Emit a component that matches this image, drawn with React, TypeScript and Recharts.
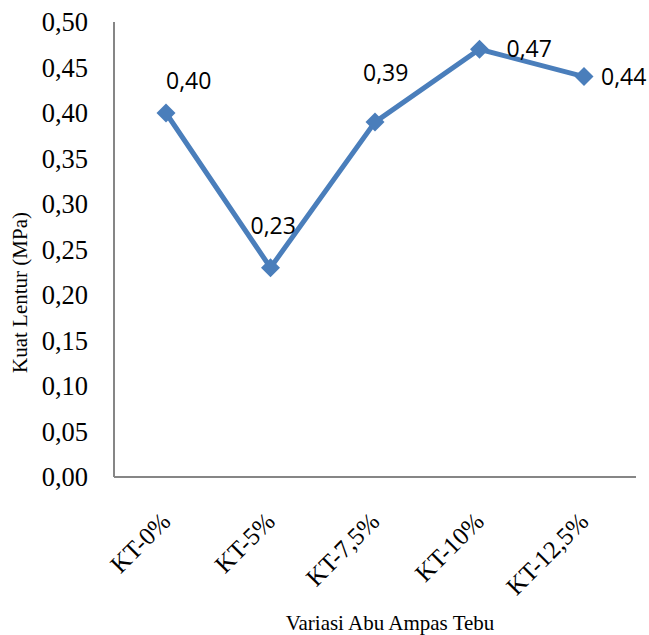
import { LineChart, Line, XAxis, YAxis, LabelList, Label } from "recharts";

// kategori variasi abu ampas tebu
const categories = ["KT-0%", "KT-5%", "KT-7,5%", "KT-10%", "KT-12,5%"];
// kuat lentur (MPa)
const kuatLentur = [0.4, 0.23, 0.39, 0.47, 0.44];
const yTicks = [0, 0.05, 0.1, 0.15, 0.2, 0.25, 0.3, 0.35, 0.4, 0.45, 0.5];

const data = categories.map((name, i) => ({ name, value: kuatLentur[i] }));

// posisi label nilai relatif ke titik (dx, dy)
const labelOffsets = [
  [0, -24],
  [-20, -34],
  [-12, -41],
  [27, 8],
  [17, 8],
];

const BLUE = "#4A7EBB";
const AXIS = "#868686";
const SERIF = "Liberation Serif, Times New Roman, serif";

const fmt = (v: number) => v.toFixed(2).replace(".", ",");

const Diamond = (props: any) => {
  const { cx, cy } = props;
  if (cx == null || cy == null) return null;
  const r = 9.5;
  return (
    <path
      d={`M${cx},${cy - r}L${cx + r},${cy}L${cx},${cy + r}L${cx - r},${cy}Z`}
      fill={BLUE}
    />
  );
};

const XTick = (props: any) => {
  const { x, y, payload } = props;
  const bx = x + 6;
  const by = y + 38;
  return (
    <text
      x={bx}
      y={by}
      textAnchor="end"
      transform={`rotate(-45, ${bx}, ${by})`}
      style={{ fontFamily: SERIF, fontSize: 25 }}
      fill="#000"
    >
      {payload.value}
    </text>
  );
};

const YTick = (props: any) => {
  const { x, y, payload } = props;
  return (
    <text
      x={x - 24}
      y={y + 9}
      textAnchor="end"
      style={{ fontFamily: SERIF, fontSize: 26.5 }}
      fill="#000"
    >
      {fmt(payload.value)}
    </text>
  );
};

const ValueLabel = (props: any) => {
  const { x, y, value, index } = props;
  const [dx, dy] = labelOffsets[index] || [0, -20];
  return (
    <text
      x={x + dx}
      y={y + dy}
      style={{ fontFamily: "Open Sans, sans-serif", fontSize: 23 }}
      fill="#000"
    >
      {fmt(value)}
    </text>
  );
};

export default function App() {
  return (
    <div style={{ position: "fixed", left: 0, top: 0, background: "#fff" }}>
      <LineChart
        width={649}
        height={635}
        data={data}
        margin={{ top: 22, right: 13, left: 0, bottom: 0 }}
      >
        <XAxis
          dataKey="name"
          height={158}
          padding={{ left: 52, right: 52 }}
          axisLine={{ stroke: AXIS, strokeWidth: 2 }}
          tickLine={false}
          tick={<XTick />}
          interval={0}
        >
          <Label
            content={({ viewBox }: any) => (
              <text
                x={viewBox.x + viewBox.width / 2 + 15}
                y={630}
                textAnchor="middle"
                style={{ fontFamily: SERIF, fontSize: 21 }}
                fill="#000"
              >
                Variasi Abu Ampas Tebu
              </text>
            )}
          />
        </XAxis>
        <YAxis
          width={114}
          domain={[0, 0.5]}
          ticks={yTicks}
          axisLine={{ stroke: AXIS, strokeWidth: 2 }}
          tickLine={false}
          tickSize={0}
          tick={<YTick />}
          interval={0}
        >
          <Label
            content={({ viewBox }: any) => {
              const lx = 27;
              const ly = viewBox.y + viewBox.height / 2 + 43;
              return (
                <text
                  x={lx}
                  y={ly}
                  textAnchor="middle"
                  transform={`rotate(-90, ${lx}, ${ly})`}
                  style={{ fontFamily: SERIF, fontSize: 21 }}
                  fill="#000"
                >
                  Kuat Lentur (MPa)
                </text>
              );
            }}
          />
        </YAxis>
        <Line
          type="linear"
          dataKey="value"
          stroke={BLUE}
          strokeWidth={5}
          dot={<Diamond />}
          activeDot={false}
          isAnimationActive={false}
        >
          <LabelList dataKey="value" content={<ValueLabel />} />
        </Line>
      </LineChart>
    </div>
  );
}
